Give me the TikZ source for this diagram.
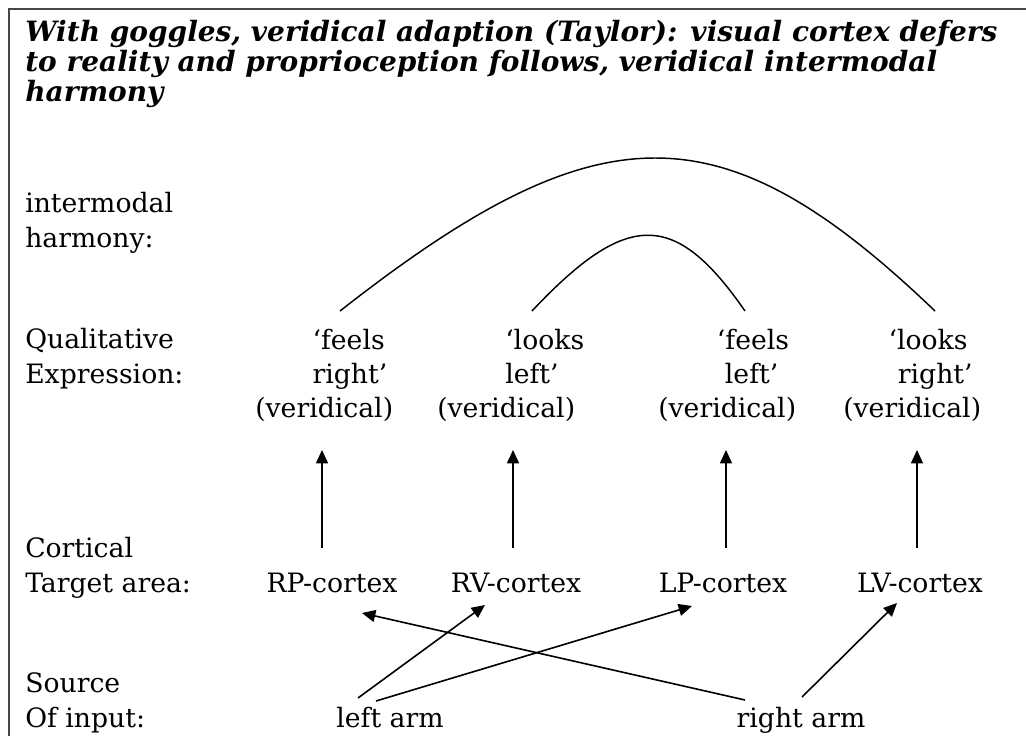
\documentclass[tikz,border=0pt]{standalone}
\usepackage{fontspec}
\setmainfont{DejaVu Serif}
\usetikzlibrary{arrows.meta,positioning}
\definecolor{FrameGray}{RGB}{70,70,70}
\tikzset{
  txt/.style={inner sep=0pt, font=\fontsize{20}{26}\selectfont},
  lbl/.style={txt, align=left, anchor=base west},
  expr/.style={txt, align=left, anchor=base west, font=\fontsize{20}{25.5}\selectfont},
  area/.style={txt, anchor=base},
  up/.style={-{Triangle[length=10pt,width=9pt]}, line width=1.2pt},
  harm/.style={line width=1.1pt}
}

\begin{document}
\begin{tikzpicture}[x=0.75pt, y=-0.75pt]
  \useasboundingbox (0,0) rectangle (1026,736);
  \draw[FrameGray, line width=1.5pt] (9,736) |- (1026,9);

  % heading (base = last line)
  \node[inner sep=0pt, align=left, anchor=base west,
        font=\fontsize{21}{22.5}\selectfont\bfseries\itshape] (head) at (25,101)
    {With goggles, veridical adaption (Taylor): visual cortex defers\\
     to reality and proprioception follows, veridical intermodal\\
     harmony};

  % row labels
  \node[lbl] (harmony) at (25,247) {intermodal\\harmony:};
  \node[lbl] (quality) at (25,383) {Qualitative\\Expression:};
  \node[lbl] (target)  at (25,592) {Cortical\\Target area:};
  \node[lbl] (source)  at (25,727) {Source\\Of input:};

  % qualitative expressions
  \node[expr] (fr) at (255,417) {\hspace*{43pt}‘feels\\\hspace*{43pt}right’\\(veridical)};
  \node[expr] (ll) at (437,417) {\hspace*{51pt}‘looks\\\hspace*{51pt}left’\\(veridical)};
  \node[expr] (fl) at (658,417) {\hspace*{44pt}‘feels\\\hspace*{50pt}left’\\(veridical)};
  \node[expr] (lr) at (843,417) {\hspace*{34pt}‘looks\\\hspace*{41pt}right’\\(veridical)};

  % cortical target areas
  \node[area] (rp) at (332,592) {RP-cortex};
  \node[area] (rv) at (516,592) {RV-cortex};
  \node[area] (lp) at (723,592) {LP-cortex};
  \node[area] (lv) at (920,592) {LV-cortex};

  % sources
  \node[area] (la) at (390,727) {left arm};
  \node[area] (ra) at (801,727) {right arm};

  % cortex -> expression
  \draw[up] ([shift={(-10,-44)}]rp.base) -- ([shift={(67,33)}]fr.base west);
  \draw[up] ([shift={(-3,-44)}]rv.base) -- ([shift={(76,33)}]ll.base west);
  \draw[up] ([shift={(3,-44)}]lp.base) -- ([shift={(68,33)}]fl.base west);
  \draw[up] ([shift={(-3,-44)}]lv.base) -- ([shift={(74,33)}]lr.base west);

  % source -> cortex
  \draw[up] ([shift={(-32,-29)}]la.base) -- ([shift={(-31,13)}]rv.base);
  \draw[up] ([shift={(-14,-26)}]la.base) -- ([shift={(-31,14)}]lp.base);
  \draw[up] ([shift={(-56,-27)}]ra.base) -- ([shift={(30,21)}]rp.base);
  \draw[up] ([shift={(1,-30)}]ra.base) -- ([shift={(-23,11)}]lv.base);

  % intermodal harmony
  \draw[harm] ([shift={(85,-106)}]fr.base west)
    .. controls +(260,-204) and +(-213,-204) .. ([shift={(92,-106)}]lr.base west);
  \draw[harm] ([shift={(95,-106)}]ll.base west)
    .. controls +(95,-101) and +(-70,-101) .. ([shift={(87,-106)}]fl.base west);
\end{tikzpicture}
\end{document}
